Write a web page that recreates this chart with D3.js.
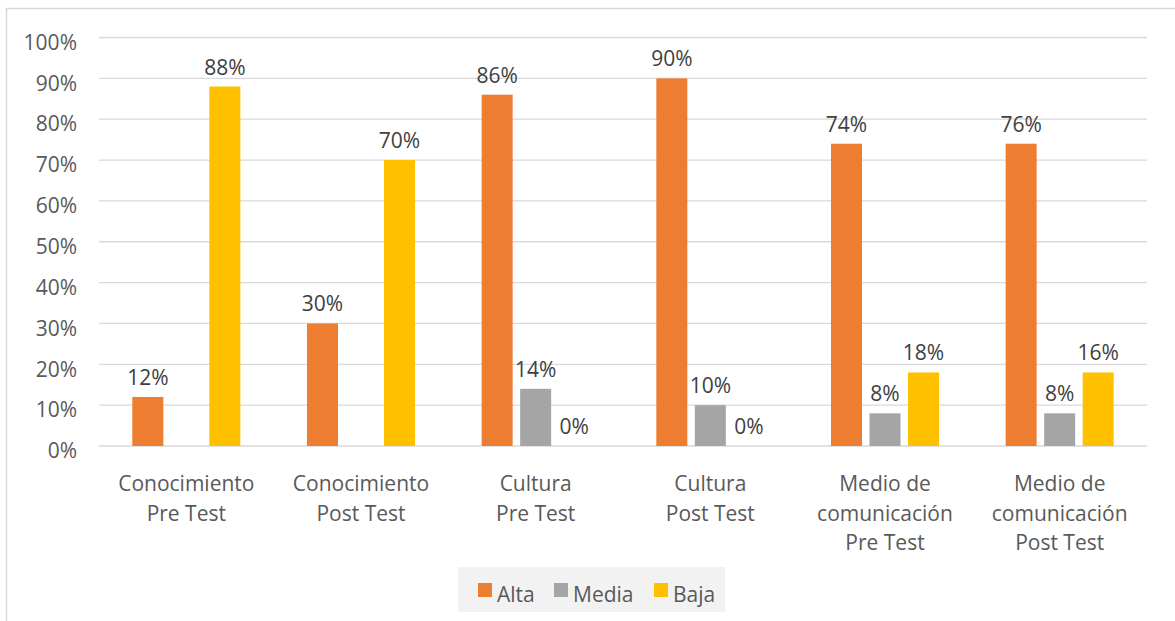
<!DOCTYPE html>
<html>
<head>
<meta charset="utf-8">
<script src="https://cdn.jsdelivr.net/npm/d3@7"></script>
<style>
  body { margin: 0; background: #fff; }
  svg text { font-family: "Open Sans", sans-serif; }
</style>
</head>
<body>
<svg id="chart" width="1175" height="621"></svg>
<script>
// categories (each label split on lines)
const categories = [
  ["Conocimiento", "Pre Test"],
  ["Conocimiento", "Post Test"],
  ["Cultura", "Pre Test"],
  ["Cultura", "Post Test"],
  ["Medio de", "comunicación", "Pre Test"],
  ["Medio de", "comunicación", "Post Test"]
];
const series = ["Alta", "Media", "Baja"];
const colors = ["#ED7D31", "#A5A5A5", "#FFC000"];

// bar heights as drawn (fraction)
const alta = [0.12, 0.30, 0.86, 0.90, 0.74, 0.74];
const media = [null, null, 0.14, 0.10, 0.08, 0.08];
const baja = [0.88, 0.70, 0, 0, 0.18, 0.18];

// data labels as printed
const altaLabels = ["12%", "30%", "86%", "90%", "74%", "76%"];
const mediaLabels = [null, null, "14%", "10%", "8%", "8%"];
const bajaLabels = ["88%", "70%", "0%", "0%", "18%", "16%"];

const yTicks = [0, 0.1, 0.2, 0.3, 0.4, 0.5, 0.6, 0.7, 0.8, 0.9, 1];

const svg = d3.select("#chart");

// outer chart border (only top and left visible)
svg.append("rect")
  .attr("x", 6.5).attr("y", 8.5)
  .attr("width", 1200).attr("height", 700)
  .attr("fill", "none")
  .attr("stroke", "#D9D9D9")
  .attr("stroke-width", 1.5);

const plotLeft = 99, plotRight = 1147, plotTop = 37.5, plotBottom = 446;

const x0 = d3.scaleBand()
  .domain(d3.range(categories.length))
  .range([plotLeft, plotRight])
  .padding(0);

const x1 = d3.scaleBand()
  .domain(series)
  .range([0, x0.bandwidth()])
  .paddingInner(0.195)
  .paddingOuter(0.865);

const y = d3.scaleLinear()
  .domain([0, 1])
  .range([plotBottom, plotTop]);

// gridlines
svg.append("g")
  .selectAll("line")
  .data(yTicks)
  .enter()
  .append("line")
  .attr("x1", plotLeft).attr("x2", plotRight)
  .attr("y1", d => y(d)).attr("y2", d => y(d))
  .attr("stroke", "#D9D9D9")
  .attr("stroke-width", 1.3);

// y axis labels (sit a little below their gridline)
const yAxis = d3.axisLeft(y)
  .tickValues(yTicks)
  .tickFormat(d3.format(".0%"))
  .tickSize(0)
  .tickPadding(22);

const yg = svg.append("g").attr("transform", "translate(" + plotLeft + ",5)").call(yAxis);
yg.select(".domain").remove();
yg.selectAll("text")
  .attr("fill", "#595959")
  .style("font-size", "21px")
  .style("font-family", "'Open Sans', sans-serif");

// bars
const table = [alta, media, baja];
const labels = [altaLabels, mediaLabels, bajaLabels];

series.forEach(function(s, si) {
  const rows = table[si].map(function(v, i) {
    return { i: i, v: v, label: labels[si][i] };
  }).filter(d => d.v !== null);

  svg.append("g")
    .selectAll("rect")
    .data(rows)
    .enter()
    .append("rect")
    .attr("x", d => x0(d.i) + x1(s))
    .attr("width", x1.bandwidth())
    .attr("y", d => y(d.v))
    .attr("height", d => y(0) - y(d.v))
    .attr("fill", colors[si]);

  svg.append("g")
    .selectAll("text")
    .data(rows)
    .enter()
    .append("text")
    .attr("x", d => x0(d.i) + x1(s) + x1.bandwidth() / 2)
    .attr("y", d => y(d.v) - 12)
    .attr("text-anchor", "middle")
    .attr("fill", "#404040")
    .style("font-size", "21px")
    .text(d => d.label);
});

// category labels
const catG = svg.append("g");
categories.forEach(function(lines, i) {
  const t = catG.append("text")
    .attr("x", x0(i) + x0.bandwidth() / 2)
    .attr("y", 491)
    .attr("text-anchor", "middle")
    .attr("fill", "#595959")
    .style("font-size", "21px");
  lines.forEach(function(line, li) {
    t.append("tspan")
      .attr("x", x0(i) + x0.bandwidth() / 2)
      .attr("y", 491 + li * 29.5)
      .text(line);
  });
});

// legend
const legend = svg.append("g");
legend.append("rect")
  .attr("x", 458).attr("y", 567)
  .attr("width", 267).attr("height", 45)
  .attr("fill", "#F2F2F2");

const legendX = [478, 554, 654];
series.forEach(function(s, si) {
  legend.append("rect")
    .attr("x", legendX[si]).attr("y", 583)
    .attr("width", 14).attr("height", 14)
    .attr("fill", colors[si]);
  legend.append("text")
    .attr("x", legendX[si] + 19)
    .attr("y", 602)
    .attr("fill", "#595959")
    .style("font-size", "21px")
    .text(s);
});
</script>
</body>
</html>
